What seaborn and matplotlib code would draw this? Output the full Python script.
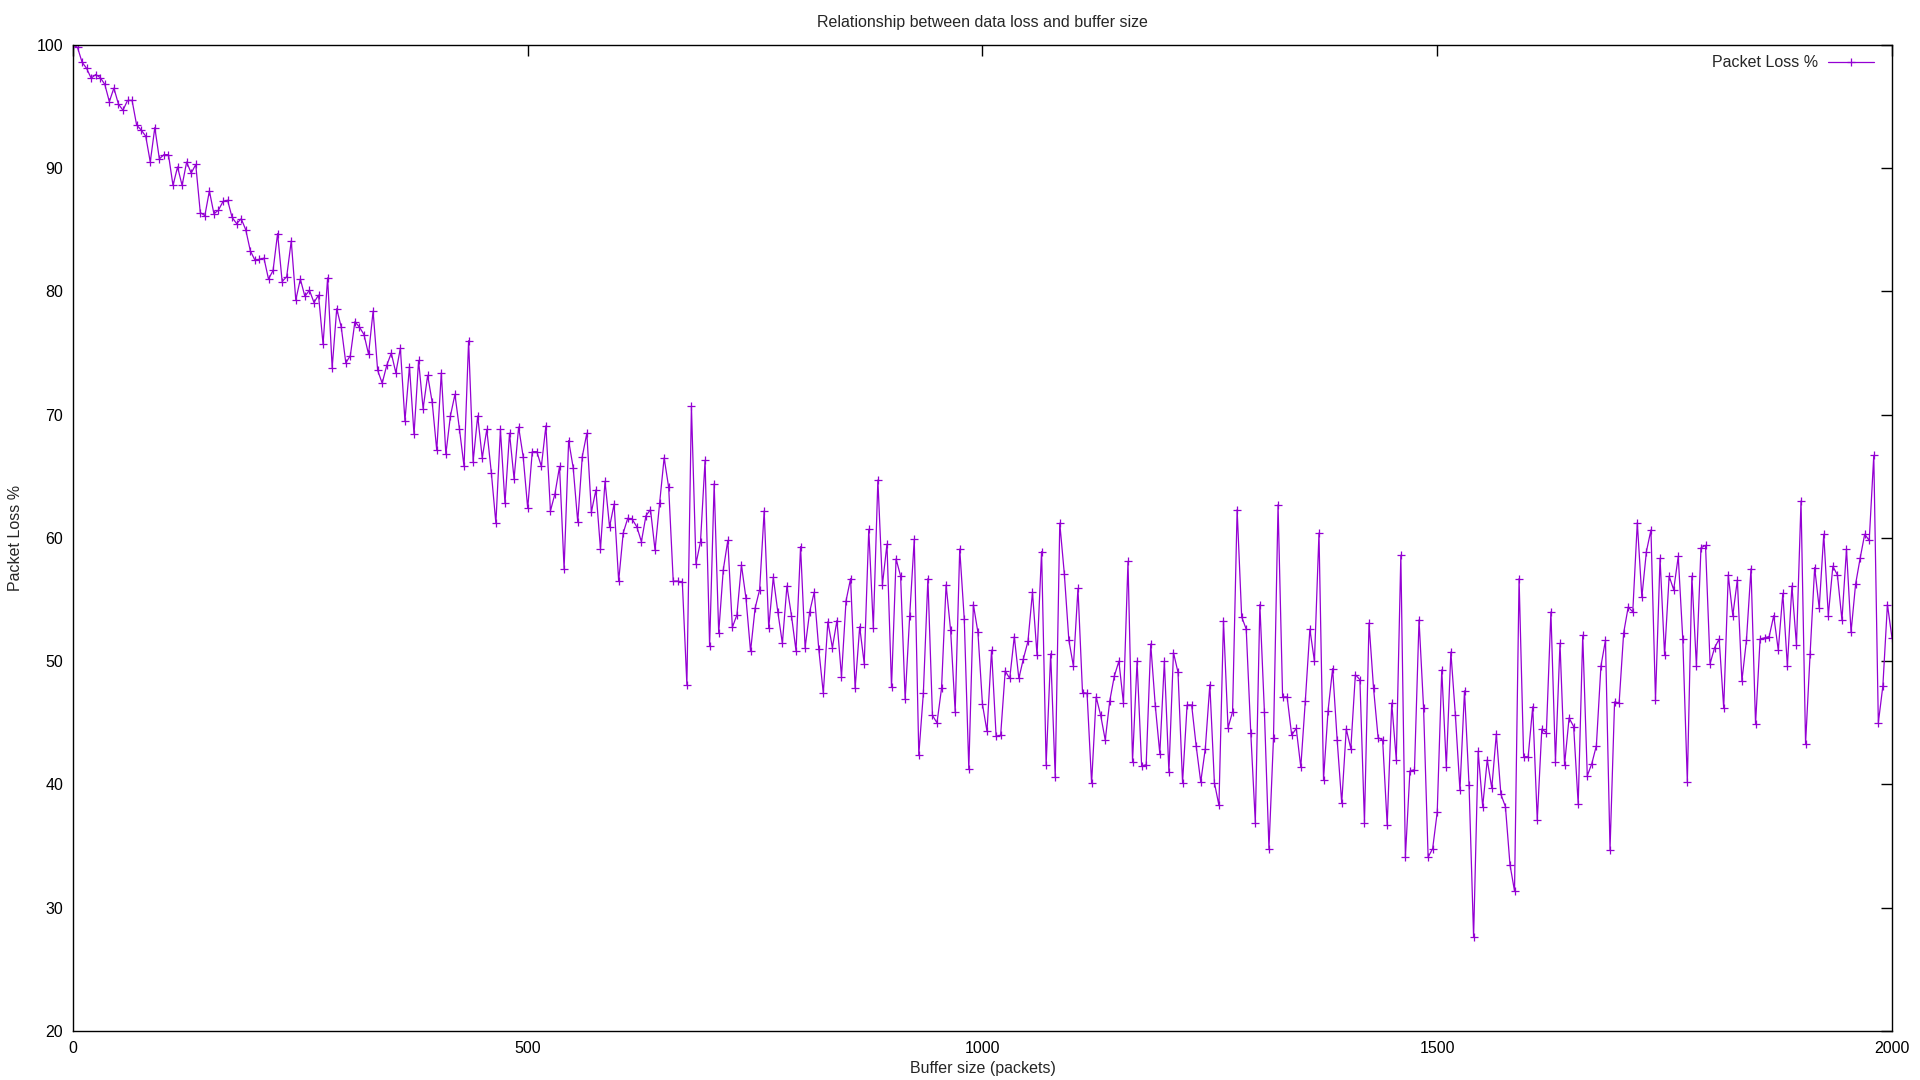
import seaborn as sns
import matplotlib.pyplot as plt
import pandas as pd
import numpy as np

# Buffer sizes sampled every 5 packets
buffer_size = np.arange(0, 2001, 5)

# Packet loss (%)
packet_loss = [
    100.0, 99.8, 98.6, 98.1, 97.3, 97.6, 97.35, 96.8, 95.4, 96.5,
    95.2, 94.7, 95.5, 95.5, 93.5, 93.1, 92.6, 90.5, 93.3, 90.75,
    91.1, 91.1, 88.6, 90.1, 88.6, 90.5, 89.6, 90.3, 86.4, 86.15,
    88.15, 86.3, 86.6, 87.3, 87.4, 86.0, 85.5, 85.9, 85.0, 83.3,
    82.55, 82.6, 82.7, 81.0, 81.7, 84.7, 80.8, 81.2, 84.1, 79.3,
    81.0, 79.6, 80.1, 79.1, 79.7, 75.7, 81.1, 73.8, 78.6, 77.1,
    74.2, 74.8, 77.55, 77.1, 76.5, 74.9, 78.4, 73.6, 72.55, 74.0,
    75.0, 73.4, 75.4, 69.5, 73.9, 68.4, 74.4, 70.5, 73.2, 71.0,
    67.1, 73.4, 66.8, 69.9, 71.65, 68.8, 65.8, 76.0, 66.2, 69.9,
    66.5, 68.8, 65.3, 61.2, 68.8, 62.8, 68.5, 64.8, 69.0, 66.6,
    62.4, 67.0, 67.0, 65.8, 69.1, 62.2, 63.6, 65.8, 57.5, 67.9,
    65.7, 61.3, 66.6, 68.5, 62.1, 63.9, 59.1, 64.6, 60.9, 62.75,
    56.5, 60.4, 61.6, 61.5, 60.9, 59.7, 61.8, 62.3, 59.0, 62.8,
    66.5, 64.1, 56.5, 56.5, 56.4, 48.1, 70.7, 57.9, 59.7, 66.3,
    51.2, 64.4, 52.3, 57.4, 59.8, 52.75, 53.75, 57.8, 55.1, 50.8,
    54.3, 55.8, 62.2, 52.7, 56.8, 54.0, 51.45, 56.1, 53.7, 50.85,
    59.3, 51.1, 54.0, 55.6, 51.0, 47.4, 53.2, 51.1, 53.3, 48.75,
    54.9, 56.7, 47.8, 52.8, 49.8, 60.7, 52.7, 64.7, 56.2, 59.5,
    47.9, 58.3, 56.9, 46.9, 53.7, 59.9, 42.4, 47.4, 56.7, 45.6,
    45.0, 47.8, 56.2, 52.5, 45.9, 59.1, 53.4, 41.25, 54.6, 52.35,
    46.5, 44.3, 50.9, 43.9, 44.0, 49.2, 48.6, 52.0, 48.6, 50.2,
    51.6, 55.6, 50.5, 58.9, 41.6, 50.6, 40.6, 61.2, 57.1, 51.7,
    49.6, 55.9, 47.45, 47.4, 40.1, 47.1, 45.6, 43.6, 46.8, 48.8,
    50.0, 46.6, 58.1, 41.85, 50.0, 41.5, 41.6, 51.4, 46.4, 42.5,
    50.0, 41.0, 50.7, 49.1, 40.15, 46.45, 46.45, 43.1, 40.2, 42.9,
    48.1, 40.15, 38.3, 53.3, 44.6, 45.9, 62.3, 53.6, 52.6, 44.2,
    36.9, 54.6, 45.9, 34.8, 43.8, 62.7, 47.1, 47.1, 44.0, 44.55,
    41.4, 46.8, 52.6, 50.0, 60.4, 40.4, 46.0, 49.4, 43.6, 38.5,
    44.5, 42.9, 48.9, 48.5, 36.9, 53.1, 47.8, 43.8, 43.6, 36.7,
    46.6, 42.0, 58.6, 34.1, 41.1, 41.2, 53.35, 46.2, 34.1, 34.8,
    37.75, 49.3, 41.4, 50.75, 45.6, 39.55, 47.6, 39.95, 27.6, 42.7,
    38.2, 42.0, 39.7, 44.1, 39.2, 38.2, 33.5, 31.35, 56.7, 42.25,
    42.25, 46.3, 37.1, 44.5, 44.2, 54.0, 41.85, 51.45, 41.6, 45.4,
    44.7, 38.4, 52.1, 40.7, 41.7, 43.15, 49.6, 51.7, 34.7, 46.7,
    46.6, 52.3, 54.4, 54.0, 61.25, 55.2, 58.9, 60.65, 46.85, 58.35,
    50.5, 56.9, 55.8, 58.5, 51.8, 40.2, 56.9, 49.6, 59.2, 59.4,
    49.8, 51.1, 51.8, 46.2, 57.0, 53.7, 56.6, 48.4, 51.7, 57.5,
    44.9, 51.8, 51.9, 52.0, 53.7, 50.9, 55.5, 49.6, 56.1, 51.3,
    63.0, 43.3, 50.6, 57.6, 54.3, 60.3, 53.7, 57.7, 57.0, 53.35,
    59.1, 52.35, 56.25, 58.35, 60.3, 59.8, 66.7, 45.0, 48.0, 54.6,
    51.9,
]

x_ticks = [0, 500, 1000, 1500, 2000]
y_ticks = [20, 30, 40, 50, 60, 70, 80, 90, 100]

df = pd.DataFrame({"buffer": buffer_size, "loss": packet_loss})

sns.set_style("white")
plt.rcParams["font.family"] = ["Liberation Sans", "DejaVu Sans"]
plt.rcParams["font.size"] = 11.5

purple = "#9400d3"

fig = plt.figure(figsize=(19.2, 10.8), dpi=100)
ax = fig.add_axes([0.038, 0.0454, 0.9474, 0.9130])

sns.lineplot(
    data=df, x="buffer", y="loss",
    color=purple, linewidth=0.9,
    marker="+", markersize=6, markeredgewidth=0.9,
    markeredgecolor=purple, markerfacecolor=purple,
    label="Packet Loss %", ax=ax,
)

ax.set_xlim(0, 2000)
ax.set_ylim(20, 100)
ax.set_xticks(x_ticks)
ax.set_yticks(y_ticks)
ax.tick_params(direction="in", length=8, width=1, colors="black",
               top=True, right=True, labelsize=11.5)
ax.tick_params(axis="x", pad=7)
ax.tick_params(axis="y", pad=7)
for s in ax.spines.values():
    s.set_color("black")
    s.set_linewidth(1)

ax.set_title("Relationship between data loss and buffer size", fontsize=11.5, pad=13)
ax.set_xlabel("Buffer size (packets)", fontsize=11.5, labelpad=4)
ax.set_ylabel("Packet Loss %", fontsize=11.5, labelpad=10)

ax.legend(loc="upper right", bbox_to_anchor=(0.996, 1.0), frameon=False,
          markerfirst=False, handlelength=2.9, handletextpad=0.6,
          fontsize=11.5, borderaxespad=0.25)

fig.savefig("out.png", dpi=100)
plt.close()
